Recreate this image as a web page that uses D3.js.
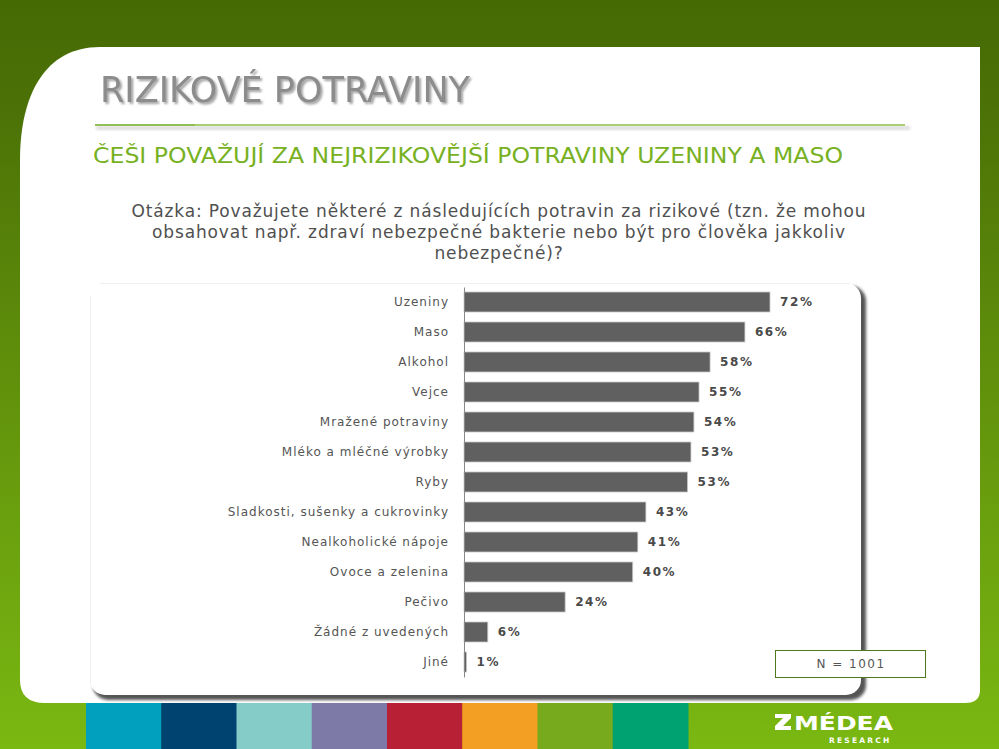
<!DOCTYPE html>
<html><head><meta charset="utf-8">
<script src="https://cdn.jsdelivr.net/npm/d3@7"></script>
<style>html,body{margin:0;padding:0;overflow:hidden;background:#fff}</style>
</head><body><svg id="c" width="999" height="749"></svg>
<script>
const categories = ["Uzeniny","Maso","Alkohol","Vejce","Mražené potraviny","Mléko a mléčné výrobky","Ryby","Sladkosti, sušenky a cukrovinky","Nealkoholické nápoje","Ovoce a zelenina","Pečivo","Žádné z uvedených","Jiné"];
const values = [72.0, 66.1, 57.9, 55.3, 54.1, 53.4, 52.6, 42.8, 40.9, 39.7, 23.8, 5.6, 0.6];
const valueLabels = ["72%","66%","58%","55%","54%","53%","53%","43%","41%","40%","24%","6%","1%"];
const footerColors = ["#00a0be","#004370","#85cbc8","#7d7aa8","#b82035","#f39f24","#77aa1c","#00a271"];
const title = "RIZIKOVÉ POTRAVINY";
const subtitle = "ČEŠI POVAŽUJÍ ZA NEJRIZIKOVĚJŠÍ POTRAVINY UZENINY A MASO";
const question = ["Otázka: Považujete některé z následujících potravin za rizikové (tzn. že mohou","obsahovat např. zdraví nebezpečné bakterie nebo být pro člověka jakkoliv","nebezpečné)?"];
const sampleNote = "N = 1001";

const svg = d3.select("#c");
const defs = svg.append("defs");
const g1 = defs.append("linearGradient").attr("id","bg").attr("x1",0).attr("y1",0).attr("x2",0).attr("y2",1);
g1.append("stop").attr("offset","0").attr("stop-color","#456a04");
g1.append("stop").attr("offset","0.12").attr("stop-color","#4a7006");
g1.append("stop").attr("offset","0.55").attr("stop-color","#63940c");
g1.append("stop").attr("offset","1").attr("stop-color","#7ab812");
const f = defs.append("filter").attr("id","sh").attr("x","-5%").attr("y","-5%").attr("width","115%").attr("height","115%");
f.append("feGaussianBlur").attr("stdDeviation",1.5);
const f2 = defs.append("filter").attr("id","tsh").attr("x","-5%").attr("y","-20%").attr("width","115%").attr("height","150%");
f2.append("feDropShadow").attr("dx",2).attr("dy",2).attr("stdDeviation",0.8).attr("flood-color","#555").attr("flood-opacity",0.55);

svg.append("rect").attr("width",999).attr("height",749).attr("fill","url(#bg)");

// white page area
svg.append("path").attr("fill","#fff")
  .attr("d","M20,160 C20,95 45,47 100,47 L980,47 L980,690 Q980,703 965,703 L45,703 Q20,703 20,680 Z");

// footer color bars
const fx = d3.scaleBand().domain(d3.range(footerColors.length)).range([86,688]);
svg.append("g").selectAll("rect").data(footerColors).join("rect")
  .attr("x",(d,i)=>fx(i)).attr("y",703).attr("width",fx.bandwidth()+0.5).attr("height",46).attr("fill",d=>d);

// logo
const logo = svg.append("g").attr("fill","#fff");
logo.append("path").attr("d","M775,714 L791,714 L791,718 L783,726 L791,726 L791,730 L775,730 L775,726 L783,718 L775,718 Z");
logo.append("text").attr("x",794).attr("y",730).attr("font-family","'DejaVu Sans Condensed','DejaVu Sans',sans-serif")
  .attr("font-weight","bold").attr("font-size",20).attr("textLength",99).attr("lengthAdjust","spacingAndGlyphs").text("MÉDEA");
logo.append("text").attr("x",829).attr("y",743).attr("font-family","'DejaVu Sans',sans-serif")
  .attr("font-weight","bold").attr("font-size",7.5).attr("letter-spacing",2.2).text("RESEARCH");

// title
svg.append("text").attr("x",100).attr("y",102).attr("font-family","'DejaVu Sans Condensed',sans-serif")
  .attr("font-size",36).attr("fill","#8c8c8c").attr("filter","url(#tsh)")
  .attr("textLength",370).attr("lengthAdjust","spacingAndGlyphs").text(title);

// divider line
svg.append("rect").attr("x",96).attr("y",126).attr("width",814).attr("height",4).attr("fill","#ddd").attr("filter","url(#sh)");
svg.append("rect").attr("x",95).attr("y",124).attr("width",810).attr("height",2).attr("fill","#a9cf72");
svg.append("rect").attr("x",95).attr("y",124).attr("width",100).attr("height",2).attr("fill","#8fbf55");

// subtitle
svg.append("text").attr("x",93).attr("y",163).attr("font-family","'DejaVu Sans',sans-serif")
  .attr("font-size",21).attr("fill","#77b122").attr("textLength",750).attr("lengthAdjust","spacingAndGlyphs").text(subtitle);

// question
svg.append("g").selectAll("text").data(question).join("text")
  .attr("x",499).attr("y",(d,i)=>217+i*21).attr("text-anchor","middle")
  .attr("font-family","'DejaVu Sans',sans-serif").attr("font-size",17).attr("letter-spacing",0.85)
  .attr("fill","#505050").text(d=>d);

// chart panel
svg.append("rect").attr("x",93).attr("y",286).attr("width",773).attr("height",414).attr("rx",15).attr("fill","#555").attr("filter","url(#sh)");
svg.append("rect").attr("x",90).attr("y",283).attr("width",771).attr("height",412).attr("rx",15).attr("fill","#fff");
svg.append("line").attr("x1",90.5).attr("x2",90.5).attr("y1",296).attr("y2",684).attr("stroke","#f0f0f0");
svg.append("line").attr("x1",100).attr("x2",850).attr("y1",283.5).attr("y2",283.5).attr("stroke","#f0f0f0");

const x0 = 464;
const x = d3.scaleLinear().domain([0,100]).range([x0, x0+425]);
const y = d3.scaleBand().domain(categories).range([287,677]).paddingInner(1/3).paddingOuter(1/6);

const chart = svg.append("g");
chart.selectAll("rect.bar").data(values).join("rect").attr("class","bar")
  .attr("x",x(0)).attr("y",(d,i)=>y(categories[i])).attr("width",d=>x(d)-x(0)).attr("height",y.bandwidth())
  .attr("fill","#606060").attr("stroke","#c8c8c8").attr("stroke-width",0.8);

const yAxis = d3.axisLeft(y).tickSize(0).tickPadding(15);
const ag = chart.append("g").attr("transform",`translate(${x0},0)`).call(yAxis);
ag.select(".domain").attr("stroke","#888").attr("stroke-width",1);
ag.selectAll("text").attr("font-family","'DejaVu Sans',sans-serif").attr("font-size",12)
  .attr("letter-spacing",1.0).attr("fill","#555");

chart.selectAll("text.val").data(values).join("text").attr("class","val")
  .attr("x",d=>x(d)+10).attr("y",(d,i)=>y(categories[i])+y.bandwidth()/2).attr("dy","0.36em")
  .attr("font-family","'DejaVu Sans',sans-serif").attr("font-weight","bold").attr("font-size",12)
  .attr("letter-spacing",1.6).attr("fill","#4a4a4a").text((d,i)=>valueLabels[i]);

// N box
svg.append("rect").attr("x",775.5).attr("y",650.5).attr("width",150).attr("height",27).attr("fill","#fff").attr("stroke","#4d7a1c");
svg.append("text").attr("x",851).attr("y",668).attr("text-anchor","middle").attr("font-family","'DejaVu Sans',sans-serif")
  .attr("font-size",12).attr("letter-spacing",1.5).attr("fill","#555").text(sampleNote);
</script></body></html>
